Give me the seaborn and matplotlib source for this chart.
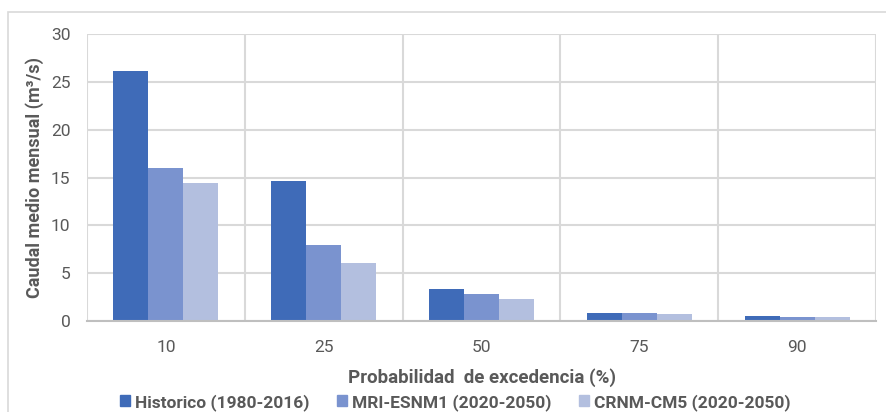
import matplotlib
matplotlib.use("Agg")
import matplotlib.pyplot as plt
import seaborn as sns
import pandas as pd
from matplotlib.patches import Rectangle

probabilidad = ["10", "25", "50", "75", "90"]
series = ["Historico (1980-2016)", "MRI-ESNM1 (2020-2050)", "CRNM-CM5 (2020-2050)"]
historico = [26.1, 14.6, 3.3, 0.8, 0.5]
mri_esnm1 = [16.0, 7.9, 2.8, 0.8, 0.4]
crnm_cm5 = [14.4, 6.1, 2.3, 0.7, 0.4]
colores = ["#3F6BB8", "#7A93CF", "#B3BFDF"]

df = pd.DataFrame({
    "prob": probabilidad * 3,
    "serie": [s for s in series for _ in probabilidad],
    "caudal": historico + mri_esnm1 + crnm_cm5,
})

sns.set_theme(style="white")
plt.rcParams["font.family"] = ["Roboto", "DejaVu Sans"]
texto = "#595959"
grid = "#D9D9D9"

fig = plt.figure(figsize=(8.87, 4.12), dpi=100)
ax = fig.add_axes([87 / 887, 1 - 321 / 412, (876 - 87) / 887, (321 - 34) / 412])

sns.barplot(data=df, x="prob", y="caudal", hue="serie", hue_order=series,
            palette=colores, width=0.665, saturation=1, ax=ax, legend=False,
            edgecolor="none", linewidth=0)

ax.set_xlim(-0.5, 4.5)
ax.set_ylim(0, 30)
ax.set_yticks(range(0, 31, 5))
ax.set_xticks(range(len(probabilidad)))
ax.set_xticklabels(probabilidad)
ax.set_xticks([i - 0.5 for i in range(len(probabilidad) + 1)], minor=True)
ax.set_axisbelow(True)
ax.yaxis.grid(True, color=grid, linewidth=1.5)
ax.xaxis.grid(True, which="minor", color=grid, linewidth=1.5)
ax.xaxis.grid(False, which="major")
for side in ["top", "right", "left"]:
    ax.spines[side].set_visible(False)
ax.spines["bottom"].set_color("#BFBFBF")
ax.spines["bottom"].set_linewidth(1.5)
ax.tick_params(axis="both", which="both", length=0, colors=texto, labelsize=12.5)
ax.tick_params(axis="y", pad=12)
ax.tick_params(axis="x", pad=14)

ax.set_ylabel("Caudal medio mensual (m³/s)", fontsize=13, fontweight="bold",
              color=texto, labelpad=5)
ax.set_xlabel("Probabilidad  de excedencia (%)", fontsize=13.5, fontweight="bold",
              color=texto, labelpad=9)

handles = [Rectangle((0, 0), 1, 1, color=c) for c in colores]
fig.legend(handles, series, loc="center", bbox_to_anchor=(0.513, 0.024), ncol=3,
           frameon=False, handlelength=0.6, handleheight=0.6, handletextpad=0.25,
           columnspacing=1.6, prop={"size": 12.5, "weight": "bold"},
           labelcolor=texto, borderpad=0)

fig.patches.append(Rectangle((8 / 887, -0.1), 1.2, 1 - 12 / 412 + 0.1,
                             transform=fig.transFigure, fill=False,
                             edgecolor="#D9D9D9", linewidth=1.2))

fig.savefig("out.png", dpi=100)
